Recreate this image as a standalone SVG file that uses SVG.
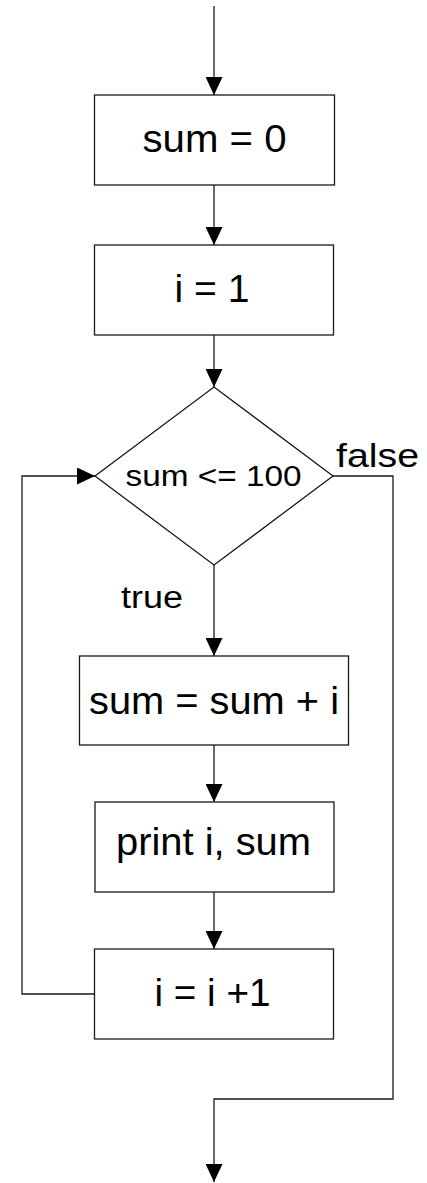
<svg xmlns="http://www.w3.org/2000/svg" width="427" height="1183" viewBox="0 0 427 1183">
  <style>
    .shape { fill: #fff; stroke: #1a1a1a; stroke-width: 1.3; }
    .wire { fill: none; stroke: #1a1a1a; stroke-width: 1.3; }
    text { font-family: "Liberation Sans", Arial, sans-serif; fill: #000; }
  </style>
  <defs>
    <marker id="head" markerUnits="userSpaceOnUse" markerWidth="18" markerHeight="17" refX="18" refY="8.5" orient="auto">
      <path d="M0,0 L18,8.5 L0,17 Z" fill="#000"/>
    </marker>
  </defs>

  <rect width="427" height="1183" fill="#fff"/>

  <!-- connectors -->
  <g id="connectors" class="wire">
    <path class="wire" d="M214,6 V95" marker-end="url(#head)"/>
    <path class="wire" d="M214,185 V245" marker-end="url(#head)"/>
    <path class="wire" d="M214,335 V387" marker-end="url(#head)"/>
    <path class="wire" d="M214,565 V656" marker-end="url(#head)"/>
    <path class="wire" d="M214,745 V802" marker-end="url(#head)"/>
    <path class="wire" d="M214,892 V949" marker-end="url(#head)"/>
    <path class="wire" d="M95,994 H22 V476 H95" marker-end="url(#head)"/>
    <path class="wire" d="M333,476 H393 V1099 H214 V1182" marker-end="url(#head)"/>
  </g>

  <!-- nodes -->
  <g id="init-sum">
    <rect class="shape" x="94.5" y="95" width="240" height="90"/>
    <text x="142.5" y="152" font-size="38" textLength="144" lengthAdjust="spacingAndGlyphs">sum = 0</text>
  </g>

  <g id="init-i">
    <rect class="shape" x="94.5" y="245" width="239" height="90"/>
    <text x="174.5" y="302" font-size="38" textLength="75" lengthAdjust="spacingAndGlyphs">i = 1</text>
  </g>

  <g id="condition">
    <polygon class="shape" points="214,387 333,476 214,565 95,476"/>
    <text x="125.5" y="486" font-size="29" textLength="176" lengthAdjust="spacingAndGlyphs">sum &lt;= 100</text>
  </g>

  <g id="label-false">
    <text x="336" y="467" font-size="33" textLength="83" lengthAdjust="spacingAndGlyphs">false</text>
  </g>

  <g id="label-true">
    <text x="121" y="607.5" font-size="31" textLength="62" lengthAdjust="spacingAndGlyphs">true</text>
  </g>

  <g id="accumulate">
    <rect class="shape" x="79.5" y="656" width="269" height="89"/>
    <text x="89" y="713.5" font-size="38" textLength="250" lengthAdjust="spacingAndGlyphs">sum = sum + i</text>
  </g>

  <g id="output">
    <rect class="shape" x="95" y="802" width="239" height="90"/>
    <text x="116" y="854.5" font-size="38" textLength="195" lengthAdjust="spacingAndGlyphs">print i, sum</text>
  </g>

  <g id="increment">
    <rect class="shape" x="94.5" y="949" width="239" height="90"/>
    <text x="154.5" y="1006" font-size="38" textLength="116" lengthAdjust="spacingAndGlyphs">i = i +1</text>
  </g>
</svg>
